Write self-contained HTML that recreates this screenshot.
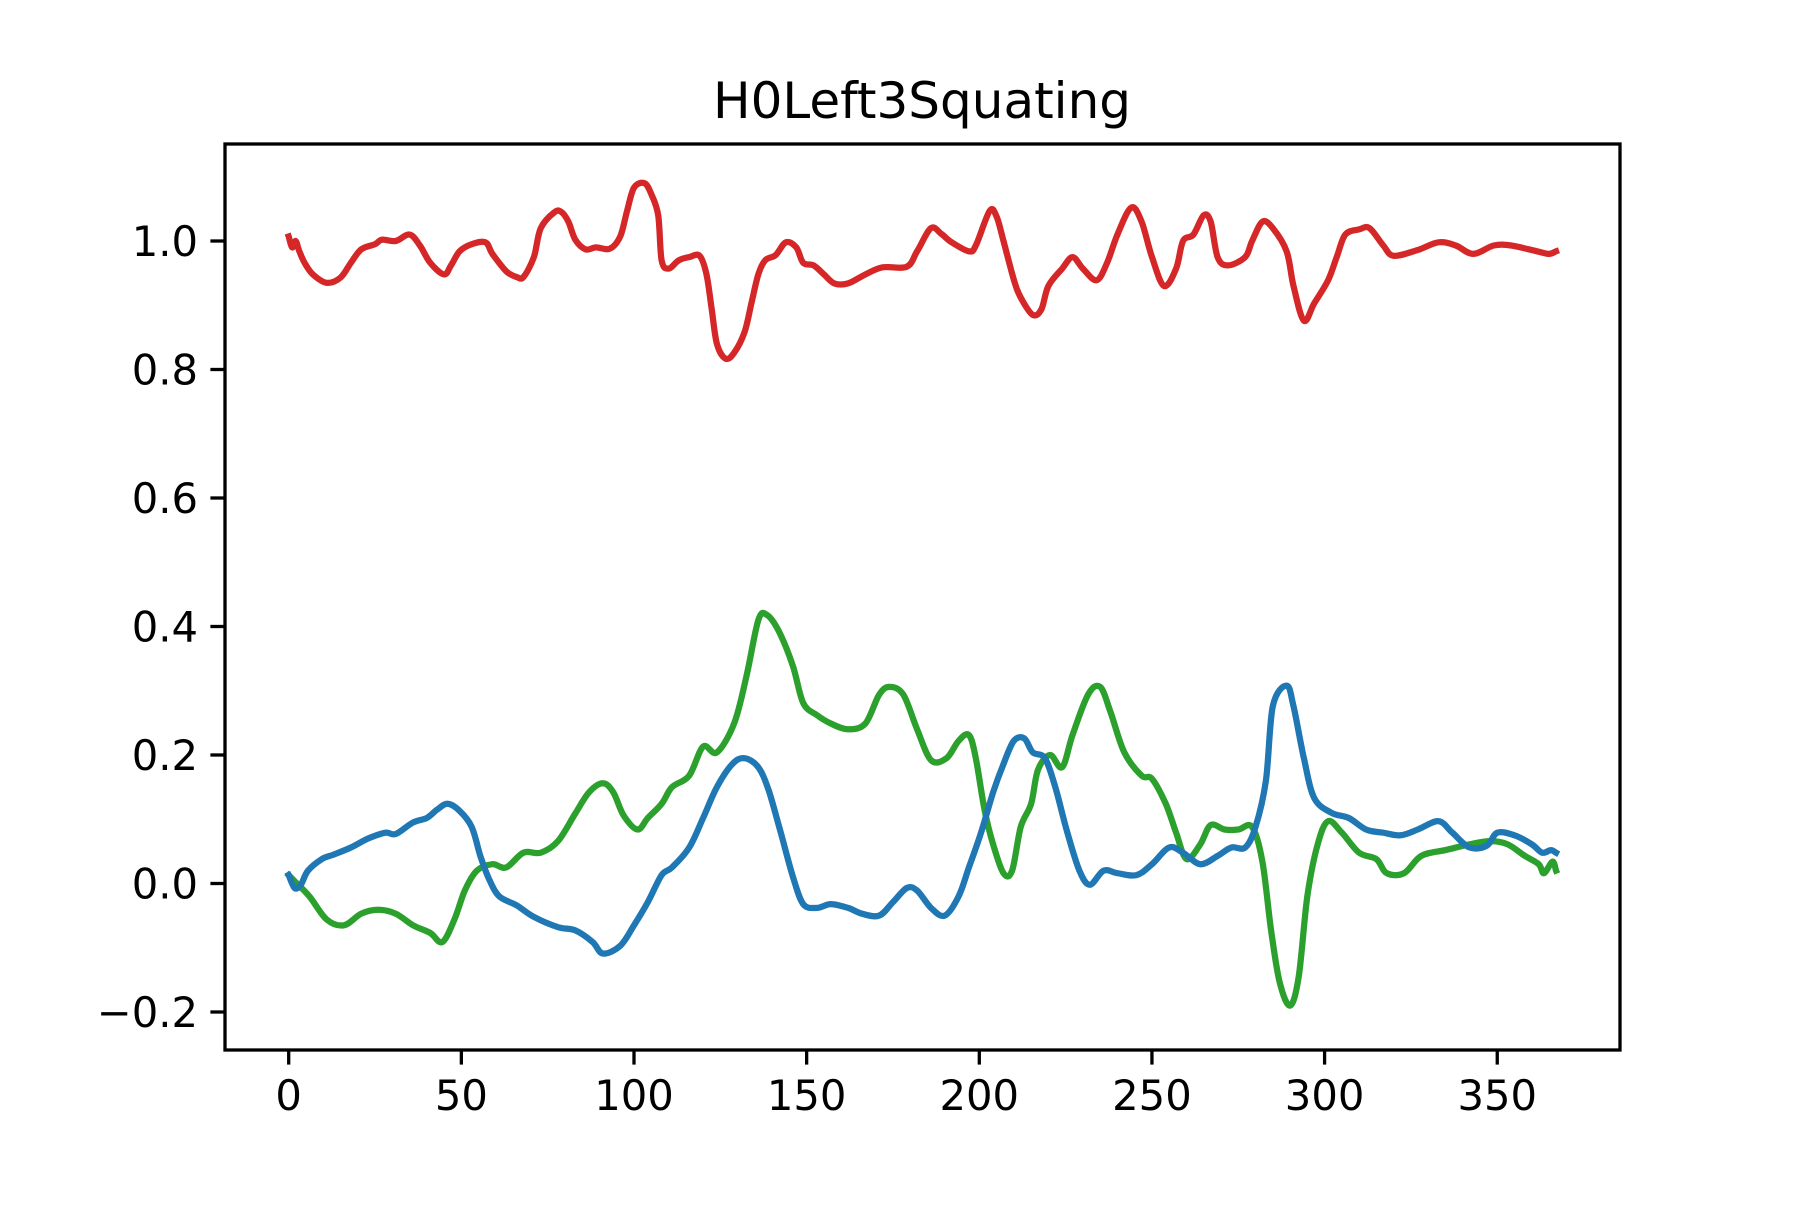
<!DOCTYPE html>
<html><head><meta charset="utf-8"><style>
html,body{margin:0;padding:0;background:#fff;}
svg text{font-family:"DejaVu Sans","Liberation Sans",sans-serif;fill:#000;}
</style></head><body>
<svg id="chart" width="1800" height="1200" viewBox="0 0 1800 1200" xmlns="http://www.w3.org/2000/svg">
<rect width="1800" height="1200" fill="#fff"/>
<text x="922" y="118" font-size="50" text-anchor="middle">H0Left3Squating</text>
<g id="plot"></g>
<g id="axes"></g>
</svg>
<script>
const xTicks=[0,50,100,150,200,250,300,350];
const yTicks=[-0.2,0,0.2,0.4,0.6,0.8,1.0];
const yTickLabels=["\u22120.2","0.0","0.2","0.4","0.6","0.8","1.0"];
const redX=[0,1,2,3,4.6,7,11,15,18,21,25,27,31,35,38,41,45,47,49.5,53,57,59,63,66,68,71,73,77,79,81,83,86,89,93,96,98,100,103,105,107,108,110,113,116,119,121,122.5,124,126.5,129,132,134,136,138,141,144,147,149,152,155,158,162,167,172,179,182,186,189,192,197,199,203,205,207,210,212,215.5,218,220,224,227,230,234,237,240,244,247,250,253.5,257,259,262,265,267,269,272,277,279,282,285,289,291,294,297,301,303.5,306,310,313,317,320,327,333,338,343,349,354,361.5,365,367];
const redY=[1.007,0.99,1.0,0.985,0.966,0.948,0.935,0.943,0.966,0.987,0.995,1.002,1.0,1.01,0.993,0.966,0.948,0.962,0.984,0.995,0.998,0.98,0.953,0.944,0.944,0.975,1.02,1.045,1.045,1.03,1.002,0.987,0.99,0.988,1.007,1.047,1.083,1.09,1.073,1.04,0.97,0.957,0.97,0.975,0.977,0.948,0.894,0.84,0.817,0.826,0.858,0.903,0.948,0.97,0.978,0.998,0.99,0.966,0.962,0.948,0.934,0.934,0.948,0.959,0.96,0.984,1.02,1.011,0.998,0.984,0.993,1.047,1.038,1.0,0.94,0.912,0.885,0.894,0.93,0.957,0.975,0.957,0.939,0.966,1.01,1.052,1.03,0.975,0.93,0.957,1.0,1.01,1.04,1.03,0.975,0.962,0.975,1.0,1.03,1.02,0.984,0.93,0.876,0.903,0.939,0.975,1.01,1.018,1.02,0.993,0.977,0.986,0.998,0.993,0.98,0.993,0.993,0.984,0.98,0.984];
const blueX=[0,1.7,3.5,5.6,9.6,13,18,23,28,31,36,40,43,46,49.5,53,55.5,58,61,66,71,78,83,88,91,96,100,104,108,111,116,120,124,128.5,132,136,139,142.5,146,149,153,157,162,166,171,175,179,182,186,190,194,197,200.5,204,207,210,213,215.5,219,222,225.5,229,232,236,240,245.5,250,255,259,264,269,273,277,280,283,285,289,291,294,297,302,307,312,317,322,327,333,337,342,347,350,355,360,363,365.5,367];
const blueY=[0.013,-0.007,-0.002,0.02,0.038,0.045,0.056,0.07,0.079,0.077,0.095,0.102,0.115,0.124,0.113,0.088,0.043,0.007,-0.02,-0.034,-0.052,-0.068,-0.073,-0.091,-0.109,-0.097,-0.065,-0.029,0.013,0.025,0.056,0.102,0.15,0.186,0.195,0.181,0.145,0.079,0.011,-0.032,-0.038,-0.032,-0.038,-0.047,-0.05,-0.029,-0.007,-0.011,-0.038,-0.05,-0.02,0.025,0.079,0.142,0.186,0.222,0.226,0.204,0.195,0.15,0.079,0.02,-0.002,0.02,0.016,0.013,0.03,0.056,0.048,0.03,0.043,0.056,0.056,0.088,0.16,0.276,0.308,0.276,0.195,0.133,0.11,0.102,0.084,0.079,0.075,0.084,0.097,0.079,0.056,0.059,0.079,0.075,0.061,0.048,0.052,0.048];
const greenX=[0,2,6,11,16,21,26,31,36,41,44.5,48,51,54.5,59,63,68,73,78,83,87,91,94,97,101,104,108,111,116,120,124,129,132.5,136,138.5,142,146,149,153,157,162,167,171,174,178,182,186,190.5,194,197,199,201.5,204,207,209.5,212,215,217,220.5,224,227,231.5,235,238,242,247,250,254,257,260,264,267,271,275,279,282,284.5,287,290,292.5,295,298,301,305,310,315,318,323,328,335,342,348,353,358,362,363.5,366,367];
const greenY=[0.013,0.002,-0.02,-0.056,-0.065,-0.047,-0.041,-0.047,-0.065,-0.077,-0.091,-0.056,-0.011,0.02,0.03,0.025,0.048,0.048,0.066,0.109,0.142,0.156,0.142,0.106,0.084,0.102,0.124,0.15,0.168,0.213,0.204,0.249,0.321,0.41,0.418,0.392,0.339,0.281,0.262,0.249,0.24,0.249,0.294,0.306,0.294,0.24,0.192,0.195,0.222,0.231,0.195,0.115,0.061,0.016,0.02,0.088,0.124,0.177,0.2,0.181,0.231,0.294,0.306,0.267,0.204,0.168,0.163,0.124,0.079,0.038,0.061,0.091,0.084,0.084,0.088,0.034,-0.073,-0.154,-0.19,-0.145,-0.02,0.061,0.097,0.079,0.048,0.038,0.016,0.016,0.043,0.052,0.061,0.066,0.061,0.043,0.03,0.016,0.034,0.02];

const AX={l:225,r:1620,t:144,b:1050};
function sx(v){return 288.7+v*3.453;}
function sy(v){return 883.5-v*642.5;}
const NS="http://www.w3.org/2000/svg";
const plot=document.getElementById('plot');
const axes=document.getElementById('axes');
function mk(tag,attrs,parent){const e=document.createElementNS(NS,tag);for(const k in attrs)e.setAttribute(k,attrs[k]);parent.appendChild(e);return e;}
function series(xs,ys,color,name){
  const P=xs.map((x,i)=>[sx(x),sy(ys[i])]);
  let d='M'+P[0][0].toFixed(1)+','+P[0][1].toFixed(1);
  for(let i=0;i<P.length-1;i++){
    const p0=P[Math.max(i-1,0)],p1=P[i],p2=P[i+1],p3=P[Math.min(i+2,P.length-1)];
    const c1=[p1[0]+(p2[0]-p0[0])/6,p1[1]+(p2[1]-p0[1])/6];
    const c2=[p2[0]-(p3[0]-p1[0])/6,p2[1]-(p3[1]-p1[1])/6];
    d+='C'+c1[0].toFixed(1)+','+c1[1].toFixed(1)+' '+c2[0].toFixed(1)+','+c2[1].toFixed(1)+' '+p2[0].toFixed(1)+','+p2[1].toFixed(1);
  }
  const p=mk('path',{d:d,fill:'none',stroke:color,'stroke-width':6.25,'stroke-linejoin':'round','stroke-linecap':'square'},plot);
  
  
}
series(redX,redY,'#d62728','red-series-line');
series(greenX,greenY,'#2ca02c','green-series-line');
series(blueX,blueY,'#1f77b4','blue-series-line');
const frame=mk('rect',{x:AX.l,y:AX.t,width:AX.r-AX.l,height:AX.b-AX.t,fill:'none',stroke:'#000','stroke-width':3.3},axes);


xTicks.forEach(v=>{
  const x=sx(v);
  const t=mk('line',{x1:x,x2:x,y1:AX.b,y2:AX.b+14.6,stroke:'#000','stroke-width':3.3},axes);
  
  
  const l=mk('text',{x:x,y:AX.b+60,'font-size':41.7,'text-anchor':'middle'},axes);
  l.textContent=String(v);
  
  
});
yTicks.forEach((v,i)=>{
  const y=sy(v);
  const t=mk('line',{x1:AX.l-14.6,x2:AX.l,y1:y,y2:y,stroke:'#000','stroke-width':3.3},axes);
  
  
  const l=mk('text',{x:AX.l-27,y:y+15,'font-size':41.7,'text-anchor':'end'},axes);
  l.textContent=yTickLabels[i];
  
  
});
</script>
</body></html>
